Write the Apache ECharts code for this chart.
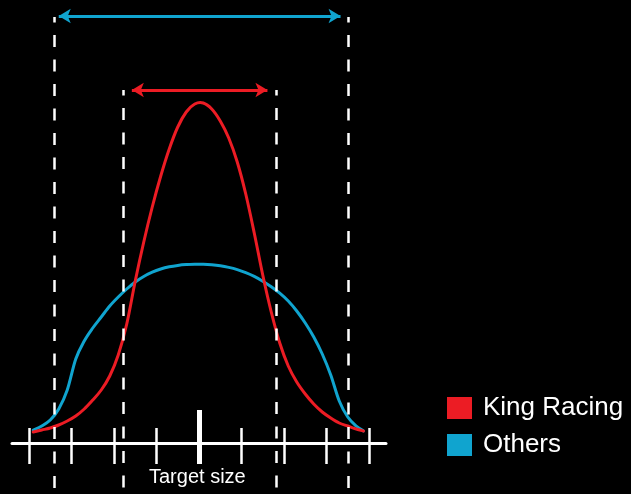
<!DOCTYPE html>
<html><head><meta charset="utf-8">
<script src="https://cdn.jsdelivr.net/npm/echarts@6/dist/echarts.min.js"></script>
<style>html,body{margin:0;padding:0;background:#000;}#c{width:631px;height:494px;}</style>
</head><body><div id="c"></div>
<script>
// x: offset from target size (tick units); y: relative frequency (arbitrary units)
const sizeTicks = [-4, -3, -2, -1, 1, 2, 3, 4];
const targetTick = [0];
const kingRacing = [
  [-3.9, 11], [-3.7, 13], [-3.5, 15], [-3.3, 18], [-3.1, 22], [-2.9, 27], [-2.7, 34],
  [-2.5, 43], [-2.3, 53], [-2.1, 67], [-1.9, 88], [-1.7, 119], [-1.5, 162], [-1.3, 201],
  [-1.1, 236], [-0.9, 267], [-0.7, 294], [-0.5, 316], [-0.3, 331], [-0.1, 339],
  [0.1, 340], [0.3, 334], [0.5, 322], [0.7, 305], [0.9, 281], [1.1, 249], [1.3, 210],
  [1.5, 168], [1.7, 131], [1.9, 100], [2.1, 77], [2.3, 61], [2.5, 49], [2.7, 39],
  [2.9, 31], [3.1, 25], [3.3, 20], [3.5, 17], [3.7, 14], [3.87, 12]
];
const others = [
  [-3.9, 13], [-3.7, 17], [-3.5, 23], [-3.3, 34], [-3.1, 53], [-2.9, 84], [-2.7, 102],
  [-2.5, 115], [-2.3, 126], [-2.1, 137], [-1.9, 146], [-1.7, 154], [-1.5, 161], [-1.3, 166.5],
  [-1.1, 170.8], [-0.9, 174], [-0.7, 176.2], [-0.5, 177.6], [-0.3, 178.4], [-0.1, 178.7],
  [0.1, 178.7], [0.3, 178.2], [0.5, 177.2], [0.7, 175.6], [0.9, 173.4], [1.1, 170.4], [1.3, 166.6],
  [1.5, 161.8], [1.7, 156.2], [1.9, 149.8], [2.1, 142], [2.3, 132], [2.5, 120], [2.7, 106],
  [2.9, 89], [3.1, 68], [3.3, 42], [3.5, 26], [3.7, 17], [3.87, 12]
];
const kingRange = [-1.785, 1.81];
const othersRange = [-3.41, 3.52];
const kingArrow = [-1.58, 1.61];
const othersArrow = [-3.30, 3.33];
const kingTop = 353;
const othersTop = 426;
const guideBottom = -51;
const seriesNames = ['King Racing', 'Others'];
const axisName = 'Target size';

const RED = '#ec1c24', BLUE = '#10a4cf';
const FONT = '"Liberation Sans", Arial, Helvetica, sans-serif';

function guides(range, top) {
  return range.map(x => [{ coord: [x, top] }, { coord: [x, guideBottom] }]);
}
function arrow(span, y, color) {
  return [[{ coord: [span[0], y], symbol: 'arrow', lineStyle: { color: color, width: 3, type: 'solid' } },
           { coord: [span[1], y], symbol: 'arrow' }]];
}
const dashStyle = { color: '#fff', width: 2.5, type: [12, 12.5], dashOffset: 6.6 };

// smooth curve through the data points, positioned by the chart's own axes (api.coord)
function curveRenderer(values, color) {
  return function (params, api) {
    if (params.dataIndex !== 0) return null;
    const p = values.map(v => api.coord(v));
    let d = 'M' + p[0][0] + ' ' + p[0][1];
    for (let i = 0; i < p.length - 1; i++) {
      const p0 = p[i - 1] || p[i], p1 = p[i], p2 = p[i + 1], p3 = p[i + 2] || p[i + 1];
      const c1 = [p1[0] + (p2[0] - p0[0]) / 6, p1[1] + (p2[1] - p0[1]) / 6];
      const c2 = [p2[0] - (p3[0] - p1[0]) / 6, p2[1] - (p3[1] - p1[1]) / 6];
      d += ' C' + c1[0] + ' ' + c1[1] + ' ' + c2[0] + ' ' + c2[1] + ' ' + p2[0] + ' ' + p2[1];
    }
    return { type: 'path', shape: { pathData: d },
      style: { stroke: color, lineWidth: 3, fill: 'none', lineJoin: 'round', lineCap: 'round' } };
  };
}

const baseX = { type: 'value', min: -4.4, max: 4.4, position: 'bottom',
  axisLabel: { show: false }, splitLine: { show: false } };
function tickAxis(values, inside, length, width, showLine) {
  return Object.assign({}, baseX, {
    axisLine: { show: showLine, onZero: true, onZeroAxisIndex: 0, lineStyle: { color: '#fff', width: 3 } },
    axisTick: { show: true, inside: inside, length: length, customValues: values,
      lineStyle: { color: '#fff', width: width } }
  });
}

const chart = echarts.init(document.getElementById('c'), null, { renderer: 'canvas' });
chart.setOption({
  backgroundColor: '#000',
  animation: false,
  title: {
    text: axisName, left: 149, top: 467, padding: 0,
    textStyle: { color: '#fff', fontSize: 20, fontWeight: 'normal', fontFamily: FONT }
  },
  grid: { left: 12, right: 245, top: 0, bottom: 0, outerBoundsMode: 'none' },
  legend: {
    data: seriesNames, orient: 'vertical', left: 447, top: 395, padding: 0,
    icon: 'rect', itemWidth: 25, itemHeight: 22, itemGap: 11, selectedMode: false,
    textStyle: { color: '#fff', fontSize: 26, fontFamily: FONT, padding: [0, 0, 0, 6] }
  },
  xAxis: [
    tickAxis(sizeTicks, true, 15, 2.5, true),
    tickAxis(sizeTicks, false, 21, 2.5, false),
    tickAxis(targetTick, true, 33, 5, false),
    tickAxis(targetTick, false, 21, 5, false)
  ],
  yAxis: { type: 'value', min: -51, max: 443, show: false },
  series: [
    {
      name: seriesNames[0], type: 'custom', data: kingRacing, renderItem: curveRenderer(kingRacing, RED),
      color: RED, itemStyle: { color: RED }, z: 3, silent: true,
      markLine: { silent: true, symbol: 'none', label: { show: false }, lineStyle: dashStyle,
        data: guides(kingRange, kingTop).concat(arrow(kingArrow, kingTop, RED)), symbolSize: [11, 12] }
    },
    {
      name: seriesNames[1], type: 'custom', data: others, renderItem: curveRenderer(others, BLUE),
      color: BLUE, itemStyle: { color: BLUE }, z: 2, silent: true,
      markLine: { silent: true, symbol: 'none', label: { show: false }, lineStyle: dashStyle,
        data: guides(othersRange, othersTop).concat(arrow(othersArrow, othersTop + 1, BLUE)), symbolSize: [11, 12] }
    }
  ]
});
</script></body></html>
